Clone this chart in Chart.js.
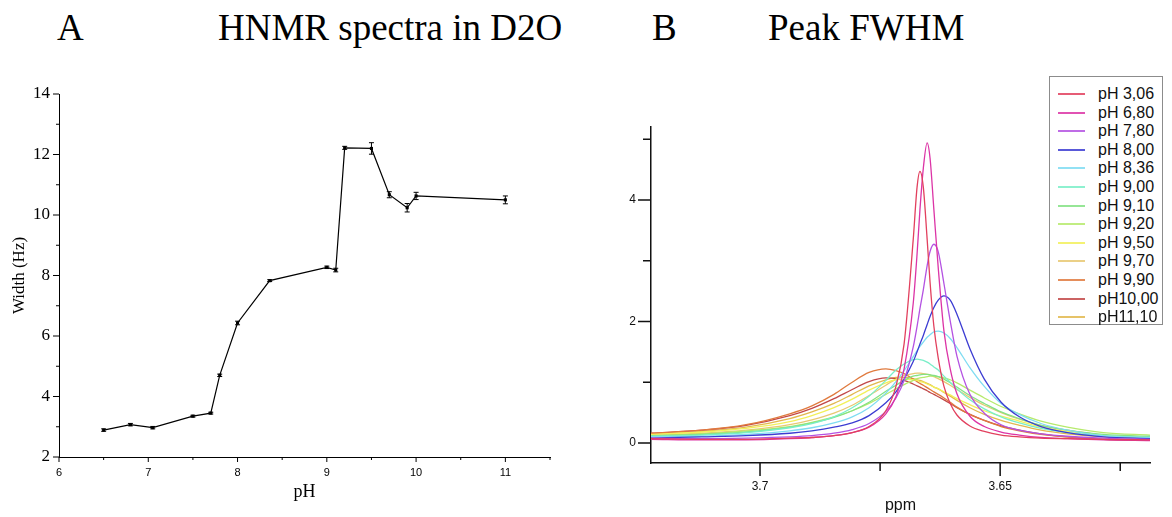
<!DOCTYPE html>
<html><head><meta charset="utf-8">
<script src="https://cdn.jsdelivr.net/npm/chart.js@4.4.1/dist/chart.umd.min.js"></script>
<style>
html,body{margin:0;padding:0;background:#fff;width:1172px;height:517px;overflow:hidden;}
body{position:relative;}
.t{position:absolute;font-family:"Liberation Serif","Times New Roman",serif;font-size:37px;line-height:37px;color:#000;top:9px;white-space:nowrap;}
#wa{position:absolute;left:0;top:0;width:590px;height:517px;}
#wb{position:absolute;left:590px;top:0;width:582px;height:517px;}
#legend{position:absolute;left:1049px;top:76px;width:114px;height:249px;border:1px solid #8c8c8c;background:#fff;box-sizing:border-box;font-family:"Liberation Sans",Arial,sans-serif;font-size:16px;color:#111;}
.row{position:absolute;left:0;height:18px;line-height:18px;white-space:nowrap;}
.sw{position:absolute;left:8px;top:8px;width:27px;height:2px;opacity:0.85;}
.lb{position:absolute;left:48px;top:0;}
</style></head>
<body>
<div class="t" style="left:57px">A</div>
<div class="t" style="left:218px">HNMR spectra in D2O</div>
<div class="t" style="left:652px">B</div>
<div class="t" style="left:768px">Peak FWHM</div>
<div id="wa"><canvas id="ca"></canvas></div>
<div id="wb"><canvas id="cb"></canvas></div>
<div id="legend"></div>
<script>
// ---------- Panel A data ----------
const phValues = [6.5, 6.8, 7.05, 7.5, 7.7, 7.8, 8.0, 8.36, 9.0, 9.1, 9.2, 9.5, 9.7, 9.9, 10.0, 11.0];
const widthHz  = [2.89, 3.07, 2.97, 3.35, 3.45, 4.70, 6.43, 7.83, 8.27, 8.18, 12.22, 12.20, 10.67, 10.24, 10.63, 10.50];
const widthErr = [0.04, 0.04, 0.04, 0.03, 0.03, 0.04, 0.06, 0.03, 0.04, 0.06, 0.05, 0.19, 0.10, 0.14, 0.12, 0.13];
const xTicksA = [6, 7, 8, 9, 10, 11];
const xMinorA = [6.5, 7.5, 8.5, 9.5, 10.5, 11.5];
const yTicksA = [2, 4, 6, 8, 10, 12, 14];
const yMinorA = [3, 5, 7, 9, 11, 13];

// ---------- Panel B data ----------
const ppm = [3.7227, 3.7121, 3.7029, 3.6938, 3.6892, 3.6846, 3.6808, 3.6773, 3.6738, 3.6717,
             3.6700, 3.6681, 3.6673, 3.6667, 3.6660, 3.6652, 3.6646, 3.6638, 3.6629, 3.6617,
             3.6604, 3.6590, 3.6563, 3.6533, 3.6498, 3.6460, 3.6415, 3.6360, 3.6285, 3.6188];
const specLabels = ['pH 3,06','pH 6,80','pH 7,80','pH 8,00','pH 8,36','pH 9,00','pH 9,10','pH 9,20','pH 9,50','pH 9,70','pH 9,90','pH10,00','pH11,10'];
const pH306 = [0.07,0.06,0.06,0.08,0.09,0.12,0.17,0.27,0.53,0.93,1.63,3.35,4.21,4.47,4.21,3.35,2.65,1.92,1.40,0.93,0.65,0.46,0.28,0.19,0.13,0.10,0.08,0.07,0.06,0.05];
const pH680 = [0.06,0.05,0.05,0.07,0.09,0.12,0.17,0.26,0.48,0.76,1.22,2.30,3.11,3.84,4.52,4.94,4.69,3.84,2.89,1.84,1.22,0.81,0.44,0.27,0.18,0.13,0.09,0.07,0.05,0.04];
const pH780 = [0.08,0.07,0.08,0.10,0.12,0.16,0.22,0.32,0.52,0.74,1.03,1.58,1.92,2.21,2.52,2.92,3.15,3.27,3.15,2.62,2.01,1.43,0.80,0.49,0.30,0.21,0.15,0.11,0.08,0.06];
const pH800 = [0.08,0.10,0.12,0.16,0.20,0.26,0.33,0.45,0.66,0.84,1.05,1.34,1.50,1.63,1.77,1.95,2.08,2.23,2.35,2.42,2.35,2.12,1.55,1.05,0.67,0.43,0.27,0.17,0.10,0.07];
const pH836 = [0.10,0.11,0.14,0.20,0.25,0.33,0.43,0.58,0.82,1.01,1.19,1.42,1.52,1.59,1.66,1.74,1.78,1.83,1.84,1.81,1.72,1.57,1.24,0.93,0.65,0.47,0.32,0.21,0.12,0.09];
const pH900 = [0.11,0.13,0.17,0.25,0.32,0.43,0.58,0.77,1.03,1.20,1.30,1.37,1.38,1.37,1.36,1.33,1.30,1.25,1.20,1.10,1.00,0.89,0.71,0.56,0.43,0.33,0.24,0.17,0.12,0.09];
const pH910 = [0.12,0.14,0.18,0.26,0.33,0.42,0.53,0.67,0.85,0.95,1.03,1.10,1.11,1.12,1.13,1.13,1.12,1.11,1.09,1.05,0.99,0.92,0.78,0.65,0.51,0.40,0.29,0.21,0.14,0.11];
const pH920 = [0.12,0.15,0.20,0.27,0.34,0.43,0.53,0.65,0.80,0.89,0.96,1.03,1.06,1.07,1.08,1.09,1.10,1.10,1.09,1.07,1.04,0.99,0.87,0.74,0.60,0.48,0.36,0.26,0.17,0.13];
const pH950 = [0.14,0.18,0.24,0.35,0.45,0.58,0.72,0.87,0.99,1.04,1.05,1.04,1.03,1.01,1.00,0.97,0.95,0.92,0.89,0.84,0.79,0.73,0.63,0.53,0.44,0.36,0.26,0.19,0.13,0.10];
const pH970 = [0.12,0.16,0.21,0.30,0.38,0.49,0.62,0.78,0.95,1.05,1.11,1.14,1.15,1.15,1.14,1.13,1.12,1.09,1.06,1.01,0.95,0.88,0.75,0.62,0.50,0.39,0.29,0.21,0.13,0.10];
const pH990 = [0.16,0.21,0.30,0.48,0.61,0.80,1.00,1.16,1.22,1.19,1.14,1.05,1.01,0.98,0.95,0.91,0.88,0.84,0.80,0.74,0.67,0.59,0.47,0.37,0.27,0.20,0.14,0.10,0.06,0.05];
const pH1000 = [0.16,0.21,0.29,0.45,0.57,0.73,0.88,1.01,1.07,1.06,1.03,0.97,0.94,0.92,0.89,0.86,0.83,0.80,0.76,0.71,0.65,0.58,0.47,0.37,0.28,0.21,0.15,0.10,0.06,0.05];
const pH1110 = [0.14,0.19,0.26,0.40,0.51,0.65,0.80,0.94,1.04,1.08,1.08,1.06,1.04,1.03,1.01,0.98,0.96,0.92,0.89,0.83,0.77,0.70,0.58,0.47,0.37,0.29,0.21,0.15,0.10,0.08];
const specSeries = [pH306, pH680, pH780, pH800, pH836, pH900, pH910, pH920, pH950, pH970, pH990, pH1000, pH1110];
const xTicksB = [3.7, 3.65];
const xTickLabelsB = ['3.7', '3.65'];
const xMinorB = [3.675, 3.625];
const yTicksB = [0, 2, 4];
const yMinorB = [1, 3, 5];

// styles (kept apart from data)
const specColors = ['#e2405e','#dc34a6','#b452e2','#3c3cd2','#7fdcf2','#7aeec8','#84e284','#b6ea6c','#f2f05a','#e8c872','#e07a3e','#c24848','#e2b84e'];

const tickMarks = {
  id: 'tickMarks',
  afterDraw(chart, args, o) {
    const ctx = chart.ctx, xs = chart.scales.x, ys = chart.scales.y;
    ctx.save();
    ctx.strokeStyle = o.color; ctx.lineWidth = o.width;
    ctx.beginPath();
    const xl = (vals, len) => vals.forEach(v => { const p = xs.getPixelForValue(v); ctx.moveTo(p, xs.top); ctx.lineTo(p, xs.top + len); });
    const yl = (vals, len) => vals.forEach(v => { const p = ys.getPixelForValue(v); ctx.moveTo(ys.right, p); ctx.lineTo(ys.right - len, p); });
    xl(o.xMajor, o.xMajorLen); xl(o.xMinor, o.xMinorLen);
    yl(o.yMajor, o.yMajorLen); yl(o.yMinor, o.yMinorLen);
    ctx.stroke(); ctx.restore();
  }
};

const errorBars = {
  id: 'errorBars',
  afterDatasetsDraw(chart) {
    const ctx = chart.ctx, xs = chart.scales.x, ys = chart.scales.y;
    ctx.save(); ctx.strokeStyle = '#000'; ctx.lineWidth = 1;
    ctx.beginPath();
    phValues.forEach((p, i) => {
      const px = xs.getPixelForValue(p);
      const y1 = ys.getPixelForValue(widthHz[i] + widthErr[i]);
      const y2 = ys.getPixelForValue(widthHz[i] - widthErr[i]);
      ctx.moveTo(px, y1); ctx.lineTo(px, y2);
      ctx.moveTo(px - 2.5, y1); ctx.lineTo(px + 2.5, y1);
      ctx.moveTo(px - 2.5, y2); ctx.lineTo(px + 2.5, y2);
    });
    ctx.stroke(); ctx.restore();
  }
};

new Chart(document.getElementById('ca'), {
  type: 'line',
  data: { datasets: [{
    data: phValues.map((p, i) => ({ x: p, y: widthHz[i] })),
    borderColor: '#000', borderWidth: 1.2, tension: 0,
    pointStyle: 'rect', pointRadius: 2.2, pointBackgroundColor: '#000', pointBorderWidth: 0
  }]},
  options: {
    responsive: true, maintainAspectRatio: false, animation: false, devicePixelRatio: 1,
    layout: { padding: { left: 0, top: 94, right: 40, bottom: 0 } },
    plugins: {
      legend: { display: false }, tooltip: { enabled: false },
      tickMarks: { color: '#000', width: 1, xMajor: xTicksA, xMinor: xMinorA, xMajorLen: 5, xMinorLen: 3,
                   yMajor: yTicksA, yMinor: yMinorA, yMajorLen: 6, yMinorLen: 3 }
    },
    scales: {
      x: {
        type: 'linear', min: 6, max: 11.5,
        afterBuildTicks: s => { s.ticks = xTicksA.map(v => ({ value: v })); },
        afterFit: s => { s.height = 60; },
        grid: { display: false, drawTicks: false },
        border: { display: true, color: '#000', width: 1 },
        ticks: { autoSkip: false, maxRotation: 0, padding: 9, color: '#000',
                 font: { family: 'Liberation Sans', size: 11 }, callback: v => String(v) },
        title: { display: true, text: 'pH', color: '#000', font: { family: 'Liberation Serif', size: 18 }, padding: { top: 0, bottom: 14 } }
      },
      y: {
        type: 'linear', min: 2, max: 14,
        afterBuildTicks: s => { s.ticks = yTicksA.map(v => ({ value: v })); },
        afterFit: s => { s.width = 59; },
        grid: { display: false, drawTicks: false },
        border: { display: true, color: '#000', width: 1 },
        ticks: { autoSkip: false, padding: 9, color: '#000',
                 font: { family: 'Liberation Serif', size: 17 }, callback: v => String(v) },
        title: { display: true, text: 'Width (Hz)', color: '#000', font: { family: 'Liberation Serif', size: 17 }, padding: { top: 9, bottom: 0 } }
      }
    }
  },
  plugins: [tickMarks, errorBars]
});

new Chart(document.getElementById('cb'), {
  type: 'line',
  data: { datasets: specSeries.map((s, k) => ({
    label: specLabels[k],
    data: ppm.map((p, i) => ({ x: p, y: s[i] })),
    borderColor: specColors[k], borderWidth: 1.3, pointRadius: 0,
    cubicInterpolationMode: 'monotone', fill: false
  }))},
  options: {
    responsive: true, maintainAspectRatio: false, animation: false, devicePixelRatio: 1,
    layout: { padding: { left: 0, top: 127, right: 22, bottom: 0 } },
    plugins: {
      legend: { display: false }, tooltip: { enabled: false },
      tickMarks: { color: '#111', width: 1.5, xMajor: xTicksB, xMinor: xMinorB, xMajorLen: 13, xMinorLen: 8,
                   yMajor: yTicksB, yMinor: yMinorB, yMajorLen: 13, yMinorLen: 8 }
    },
    scales: {
      x: {
        type: 'linear', reverse: true, min: 3.6188, max: 3.7227,
        afterBuildTicks: s => { s.ticks = xTicksB.map(v => ({ value: v })); },
        afterFit: s => { s.height = 54; },
        grid: { display: false, drawTicks: false },
        border: { display: true, color: '#111', width: 1.5 },
        ticks: { autoSkip: false, maxRotation: 0, padding: 16, color: '#111',
                 font: { family: 'Liberation Sans', size: 12 },
                 callback: v => xTickLabelsB[xTicksB.indexOf(v)] },
        title: { display: true, text: 'ppm', color: '#111', font: { family: 'Liberation Sans', size: 16 }, padding: { top: 0, bottom: 2 } }
      },
      y: {
        type: 'linear', min: -0.33, max: 5.2,
        afterBuildTicks: s => { s.ticks = yTicksB.map(v => ({ value: v })); },
        afterFit: s => { s.width = 61; },
        grid: { display: false, drawTicks: false },
        border: { display: true, color: '#111', width: 1.5 },
        ticks: { autoSkip: false, padding: 15, color: '#111',
                 font: { family: 'Liberation Sans', size: 12 }, callback: v => String(v) }
      }
    }
  },
  plugins: [tickMarks]
});

// HTML legend built from the dataset labels/colours
const lg = document.getElementById('legend');
specLabels.forEach((lab, k) => {
  const r = document.createElement('div');
  r.className = 'row';
  r.style.top = Math.round(8 + k * 18.6) + 'px';
  r.style.width = '100%';
  r.innerHTML = '<span class="sw" style="background:' + specColors[k] + '"></span><span class="lb">' + lab + '</span>';
  lg.appendChild(r);
});
</script>
</body></html>
